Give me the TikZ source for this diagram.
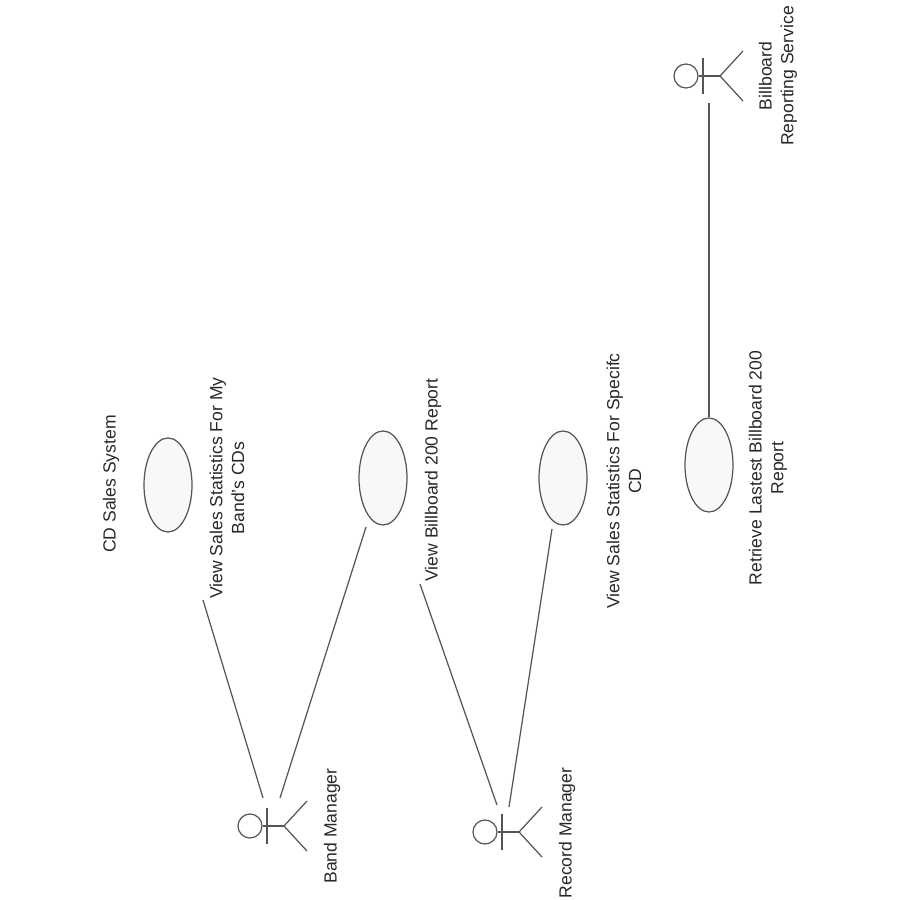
\documentclass[tikz,border=0pt]{standalone}
\usepackage{fontspec}
\setmainfont{Liberation Sans}
\usetikzlibrary{shapes.geometric}
\definecolor{myline}{RGB}{85,85,85}
\definecolor{myfill}{RGB}{248,248,248}
\definecolor{mytext}{RGB}{40,40,40}

\begin{document}
\begin{tikzpicture}[
  x=0.02cm, y=-0.02cm,
  every path/.style={draw=myline, line width=0.7pt},
  usecase/.style={ellipse, draw=myline, fill=myfill, line width=0.7pt, minimum width=0.96cm, minimum height=1.88cm, inner sep=0pt},
  label/.style={rotate=90, align=center, text=mytext, inner sep=0pt, font=\fontsize{10}{12.3}\selectfont},
  head/.style={circle, draw=myline, line width=0.7pt, minimum size=0.48cm, inner sep=0pt},
  actor/.pic={
    \node[head] (-head) at (0,0) {};
    \coordinate (-hip) at (34,0);
    \coordinate (-bartop) at (17,-18);
    \coordinate (-barbot) at (17,18);
    \coordinate (-legtop) at (57,-25);
    \coordinate (-legbot) at (57,25);
    \draw (-head.east) -- (-hip);
    \draw (-bartop) -- (-barbot);
    \draw (-legtop) -- (-hip) -- (-legbot);
  }
]
\path[draw=none, use as bounding box] (0,0) rectangle (900,900);

% use cases
\node[usecase] (bandstats) at (168,485) {};
\node[usecase] (billboard) at (383,478) {};
\node[usecase] (cdstats) at (563,478) {};
\node[usecase] (retrieve) at (709,465) {};

% actors
\pic (band) at (250,826) {actor};
\pic (record) at (485,832) {actor};
\pic (service) at (686,76) {actor};

% labels
\node[label] (systemlabel) at (111,484) {CD Sales System};
\node[label] (bandstatslabel) at (227,488) {View Sales Statistics For My\\Band's CDs};
\node[label] (billboardlabel) at (433,480) {View Billboard 200 Report};
\node[label] (cdstatslabel) at (624,481) {View Sales Statistics For Specifc\\CD};
\node[label] (retrievelabel) at (768,468) {Retrieve Lastest Billboard 200\\Report};
\node[label] (bandlabel) at (332,826) {Band Manager};
\node[label] (recordlabel) at (567,833) {Record Manager};
\node[label] (servicelabel) at (778,76) {Billboard\\Reporting Service};

% free ends of the lines
\coordinate (a1) at (203,600);
\coordinate (a2) at (263,798);
\coordinate (b1) at (366,527);
\coordinate (b2) at (280,798);
\coordinate (c1) at (420,584);
\coordinate (c2) at (497,805);
\coordinate (d1) at (552,529);
\coordinate (d2) at (509,807);
\coordinate (e1) at (709,103);

\draw (a1) -- (a2);
\draw (b1) -- (b2);
\draw (c1) -- (c2);
\draw (d1) -- (d2);
\draw (e1) -- (retrieve.north);
\end{tikzpicture}
\end{document}
